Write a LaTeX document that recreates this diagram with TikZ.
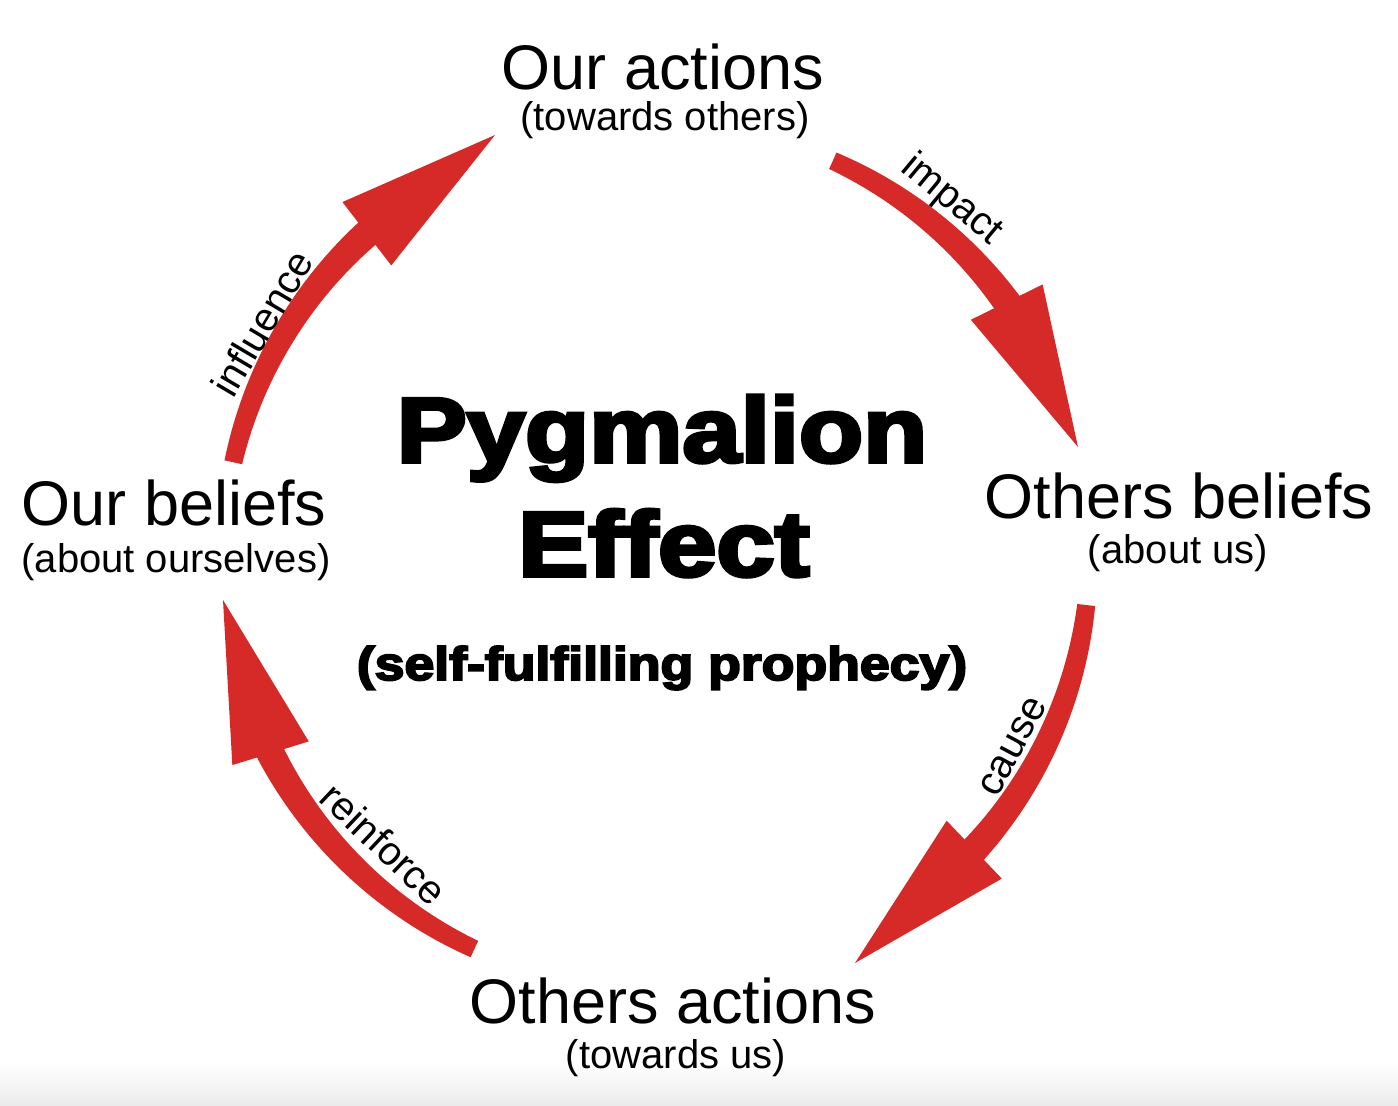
\documentclass[tikz,border=0pt]{standalone}
\usepackage{fontspec}
\setmainfont{Liberation Sans}
\newfontfamily\heavyfont{Liberation Sans Bold}[FakeBold=4]
\usetikzlibrary{calc}
\definecolor{arrowred}{HTML}{D52A28}
\newcommand\pyarrow[4]{% #1 start angle, #2 base angle, #3 tip, #4 name
  \begin{scope}[shift={(C)}]
    \fill[arrowred] plot[domain=#1:#2+1.5, samples=40] (\x:{433+9+5*(\x-#1)/(#2-#1)})
      -- plot[domain=#2+1.5:#1, samples=40] (\x:{433-9-5*(\x-#1)/(#2-#1)}) -- cycle;
  \end{scope}
  \coordinate (#4base) at ($(C)+(#2:433)$);
  \fill[arrowred] (#3) -- ($(#4base)!40pt!90:(#3)$) -- ($(#4base)!40pt!-90:(#3)$) -- cycle;
}
\begin{document}
\begin{tikzpicture}[x=1pt,y=-1pt,
  maintext/.style={anchor=base, inner sep=0pt, font=\fontsize{63}{70}\selectfont},
  subtext/.style={anchor=base, inner sep=0pt, font=\fontsize{40}{46}\selectfont},
  arrowlabel/.style={inner sep=0pt, font=\fontsize{40}{46}\selectfont},
  titletext/.style={anchor=base, inner sep=0pt, xscale=1.14, font=\heavyfont\fontsize{92}{100}\selectfont},
  subtitletext/.style={anchor=base, inner sep=0pt, xscale=1.14, font=\heavyfont\fontsize{47}{52}\selectfont},
  ]
\useasboundingbox (0,0) rectangle (1398,1106);
\fill[white] (0,0) rectangle (1398,1106);
\shade[top color=white, bottom color=black!8] (0,1062) rectangle (1398,1106);

% stage nodes
\node[maintext] (ourActions) at (663,89) {Our actions};
\node[subtext] (ourActionsSub) at (665,130) {(towards others)};
\node[maintext] (ourBeliefs) at (174,525) {Our beliefs};
\node[subtext] (ourBeliefsSub) at (176,572) {(about ourselves)};
\node[maintext] (othBeliefs) at (1179,518) {Others beliefs};
\node[subtext] (othBeliefsSub) at (1178,563) {(about us)};
\node[maintext] (othActions) at (673,1023) {Others actions};
\node[subtext] (othActionsSub) at (676,1068) {(towards us)};

% title
\node[titletext] (title1) at (662,462) {Pygmalion};
\node[titletext] (title2) at (664,576) {Effect};
\node[subtitletext] (title3) at (662,680) {(self-fulfilling prophecy)};

% arrows
\coordinate (C) at (656,556);
\coordinate (tipInf) at (495,135);
\coordinate (tipImp) at (1078,447);
\coordinate (tipCau) at (855,963);
\coordinate (tipRei) at (223,600);
\pyarrow{192.5}{228.1}{tipInf}{inf}
\pyarrow{294.1}{324.1}{tipImp}{imp}
\pyarrow{6.5}{42.7}{tipCau}{cau}
\pyarrow{114.8}{152.9}{tipRei}{rei}

% arrow labels
\node[arrowlabel, rotate=59.4] (lblInf) at ($(C)+(210.6:458)$) {influence};
\node[arrowlabel, rotate=-39.7] (lblImp) at ($(C)+(309.7:463)$) {impact};
\node[arrowlabel, rotate=61.9] (lblCau) at ($(C)+(28.1:405)$) {cause};
\node[arrowlabel, rotate=-43.4] (lblRei) at ($(C)+(133.4:396)$) {reinforce};
\end{tikzpicture}
\end{document}
